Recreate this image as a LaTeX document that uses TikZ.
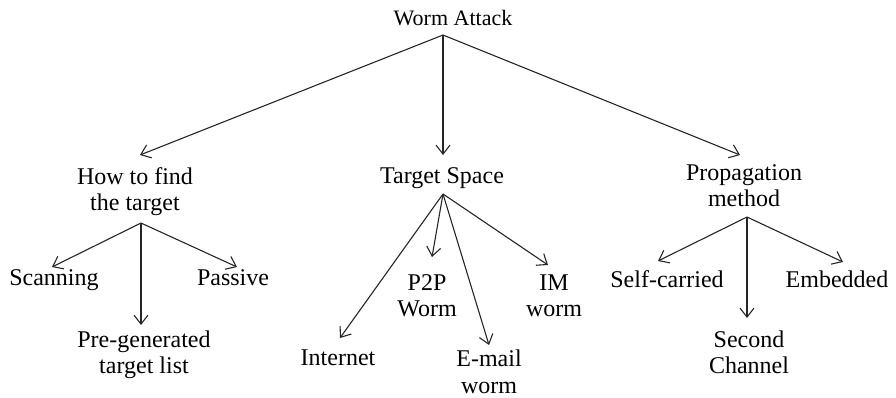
\documentclass[tikz,border=0pt]{standalone}
\usepackage{fontspec}
\setmainfont{Liberation Serif}
\usetikzlibrary{arrows.meta}

% Multi-line labels: the base anchor sits on the baseline of the last line.
\tikzset{
  label/.style={inner sep=0pt, anchor=base, align=center, text=black,
    font=\fontsize{24pt}{26.5pt}\selectfont},
  rootlabel/.style={label, font=\fontsize{22pt}{26pt}\selectfont},
  link/.style={draw=black!85, line width=1.1pt,
    -{Straight Barb[length=9pt,width=14pt,line width=1.1pt]}}
}

\begin{document}
\begin{tikzpicture}[x=1pt, y=-1pt]
  \useasboundingbox (0,0) rectangle (896,397);

  % root
  \node[rootlabel] (wa) at (453,25) {Worm Attack};

  % first level
  \node[label] (how) at (135,210.5) {How to find\\the target};
  \node[label] (ts)  at (442,183)   {Target Space};
  \node[label] (pm)  at (744,206.5) {Propagation\\method};

  % how to find the target
  \node[label] (scan) at (54,285)    {Scanning};
  \node[label] (pass) at (233,285)   {Passive};
  \node[label] (pre)  at (144,373.5) {Pre-generated\\target list};

  % target space
  \node[label] (inet)  at (338,365)   {Internet};
  \node[label] (p2p)   at (427,316.5) {P2P\\Worm};
  \node[label] (email) at (489,393)   {E-mail\\worm};
  \node[label] (im)    at (554,316.5) {IM\\worm};

  % propagation method
  \node[label] (self) at (667,287)   {Self-carried};
  \node[label] (emb)  at (837,287)   {Embedded};
  \node[label] (sec)  at (749,373.5) {Second\\Channel};

  % branching points under each parent
  \coordinate (wa-hub)  at ([shift={(-10,10)}]wa.base);
  \coordinate (how-hub) at ([shift={(6,12.5)}]how.base);
  \coordinate (ts-hub)  at ([shift={(1,11)}]ts.base);
  \coordinate (pm-hub)  at ([shift={(3,10.5)}]pm.base);

  % connectors
  \draw[link] (wa-hub) -- ([shift={(5,-55.5)}]how.base);
  \draw[link] (wa-hub) -- ([shift={(1,-28)}]ts.base);
  \draw[link] (wa-hub) -- ([shift={(-4,-51.5)}]pm.base);

  \draw[link] (how-hub) -- ([shift={(-2,-18)}]scan.base);
  \draw[link] (how-hub) -- ([shift={(-3,-48.5)}]pre.base);
  \draw[link] (how-hub) -- ([shift={(4,-18)}]pass.base);

  \draw[link] (ts-hub) -- ([shift={(2,-27)}]inet.base);
  \draw[link] (ts-hub) -- ([shift={(5,-59.5)}]p2p.base);
  \draw[link] (ts-hub) -- ([shift={(0,-48)}]email.base);
  \draw[link] (ts-hub) -- ([shift={(-6,-51.5)}]im.base);

  \draw[link] (pm-hub) -- ([shift={(-9,-26)}]self.base);
  \draw[link] (pm-hub) -- ([shift={(-2,-55.5)}]sec.base);
  \draw[link] (pm-hub) -- ([shift={(6,-25)}]emb.base);
\end{tikzpicture}
\end{document}
